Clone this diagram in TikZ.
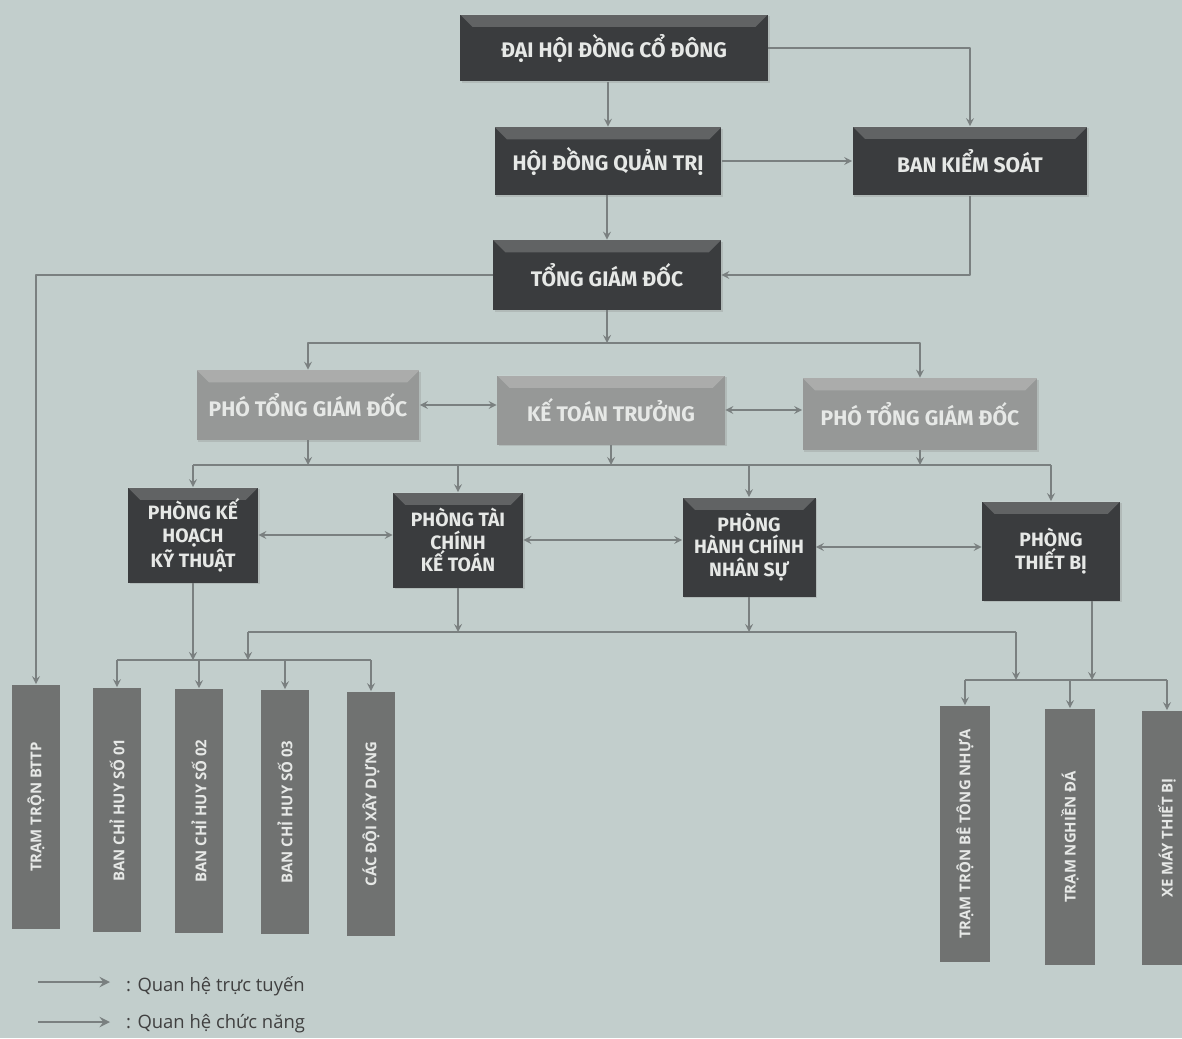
\documentclass[tikz,border=0pt]{standalone}
\usepackage{fontspec}
\setmainfont{Open Sans}
\newfontfamily\boxfont{Fira Sans}
\usetikzlibrary{shadows}
\definecolor{paper}{RGB}{194,206,204}
\definecolor{boxdark}{RGB}{58,60,62}
\definecolor{boxlight}{RGB}{150,152,151}
\definecolor{boxmid}{RGB}{112,114,113}
\definecolor{linkgray}{RGB}{122,128,128}
\definecolor{boxtext}{RGB}{230,232,230}

\begin{document}
\begin{tikzpicture}[x=0.02cm,y=-0.02cm,>=stealth,line join=round,
    link/.style={draw=linkgray,line width=1pt},
    bevel/.style={path picture={\fill[white,opacity=0.2] (path picture bounding box.north west) -- (path picture bounding box.north east) -- ([xshift=-7pt,yshift=-7pt]path picture bounding box.north east) -- ([xshift=7pt,yshift=-7pt]path picture bounding box.north west) -- cycle;}},
    darkbox/.style={bevel,fill=boxdark,text=boxtext,align=center,inner sep=2pt,
      drop shadow={opacity=0.25,shadow xshift=1pt,shadow yshift=-1pt},
      font=\boxfont\bfseries\fontsize{12}{14}\selectfont},
    lightbox/.style={darkbox,fill=boxlight},
    deptbox/.style={darkbox,minimum width=2.6cm,minimum height=1.9cm,
      font=\boxfont\bfseries\fontsize{11}{13}\selectfont},
    unitbox/.style={fill=boxmid,text=boxtext,inner sep=0pt,minimum width=0.95cm,
      minimum height=4.9cm,font=\bfseries\fontsize{8.5}{10}\selectfont},
    legendtext/.style={anchor=west,text=black!75,font=\fontsize{10.5}{12}\selectfont}]
  \useasboundingbox (0,0) rectangle (1182,1038);
  \fill[paper] (0,0) rectangle (1182,1038);

  % governance
  \node[darkbox,minimum width=6.16cm,minimum height=1.34cm] (dhdcd) at (614,48) {ĐẠI HỘI ĐỒNG CỔ ĐÔNG};
  \node[darkbox,minimum width=4.54cm,minimum height=1.36cm] (hdqt) at (608,161) {HỘI ĐỒNG QUẢN TRỊ};
  \node[darkbox,minimum width=4.7cm,minimum height=1.38cm] (bks) at (970,161) {BAN KIỂM SOÁT};
  \node[darkbox,minimum width=4.56cm,minimum height=1.4cm] (tgd) at (607,275) {TỔNG GIÁM ĐỐC};

  % directors
  \node[lightbox,minimum width=4.46cm,minimum height=1.4cm] (ptgd1) at (308,405) {PHÓ TỔNG GIÁM ĐỐC};
  \node[lightbox,minimum width=4.56cm,minimum height=1.38cm] (ktt) at (611,410) {KẾ TOÁN TRƯỞNG};
  \node[lightbox,minimum width=4.7cm,minimum height=1.44cm] (ptgd2) at (920,414) {PHÓ TỔNG GIÁM ĐỐC};

  % departments
  \node[deptbox] (pkh) at (193,535) {PHÒNG KẾ\\HOẠCH\\KỸ THUẬT};
  \node[deptbox] (ptc) at (458,540) {PHÒNG TÀI\\CHÍNH\\KẾ TOÁN};
  \node[deptbox,minimum width=2.66cm,minimum height=1.98cm] (phc) at (749,547) {PHÒNG\\HÀNH CHÍNH\\NHÂN SỰ};
  \node[deptbox,minimum width=2.76cm,minimum height=1.98cm] (ptb) at (1051,551) {PHÒNG\\THIẾT BỊ};

  % units
  \node[unitbox] (ttbttp) at (36,807) {\rotatebox{90}{TRẠM TRỘN BTTP}};
  \node[unitbox] (bch1) at (117,810) {\rotatebox{90}{BAN CHỈ HUY SỐ 01}};
  \node[unitbox] (bch2) at (199,811) {\rotatebox{90}{BAN CHỈ HUY SỐ 02}};
  \node[unitbox] (bch3) at (285,812) {\rotatebox{90}{BAN CHỈ HUY SỐ 03}};
  \node[unitbox] (cdxd) at (371,814) {\rotatebox{90}{CÁC ĐỘI XÂY DỰNG}};
  \node[unitbox,minimum width=1cm,minimum height=5.14cm] (ttbtn) at (965,834) {\rotatebox{90}{TRẠM TRỘN BÊ TÔNG NHỰA}};
  \node[unitbox,minimum width=1cm,minimum height=5.14cm] (ttnd) at (1070,837) {\rotatebox{90}{TRẠM NGHIỀN ĐÁ}};
  \node[unitbox,minimum width=1cm,minimum height=5.1cm] (xmtb) at (1167,838) {\rotatebox{90}{XE MÁY THIẾT BỊ}};

  % bus lines
  \coordinate (busa) at (607,343);
  \coordinate (busb) at (0,465);
  \coordinate (busc) at (0,660);
  \coordinate (busd) at (0,632);
  \coordinate (buse) at (0,680);
  \coordinate (busdw) at (248,632);
  \coordinate (busde) at (1016,632);
  \coordinate (ptbout) at ([xshift=0.82cm]ptb.south);

  % governance links
  \draw[link,->] (dhdcd.south -| hdqt.north) -- (hdqt.north);
  \draw[link,->] (dhdcd.east) -| (bks.north);
  \draw[link,->] (hdqt.east) -- (bks.west);
  \draw[link,->] (tgd.north |- hdqt.south) -- (tgd.north);
  \draw[link,->] (bks.south) |- (tgd.east);
  \draw[link,->] (tgd.west) -| (ttbttp.north);

  % directors links
  \draw[link,->] (tgd.south) -- (busa);
  \draw[link,->] (busa) -| (ptgd1.north);
  \draw[link,->] (busa) -| (ptgd2.north);
  \draw[link,<->] (ptgd1.east) -- (ptgd1.east -| ktt.west);
  \draw[link,<->] (ktt.east) -- (ktt.east -| ptgd2.west);

  % department links
  \draw[link] (pkh.north |- busb) -- (ptb.north |- busb);
  \foreach \n in {ptgd1,ktt,ptgd2} \draw[link,->] (\n.south) -- (\n.south |- busb);
  \foreach \n in {pkh,ptc,phc,ptb} \draw[link,->] (\n.north |- busb) -- (\n.north);
  \draw[link,<->] (pkh.east) -- (pkh.east -| ptc.west);
  \draw[link,<->] (ptc.east) -- (ptc.east -| phc.west);
  \draw[link,<->] (phc.east) -- (phc.east -| ptb.west);

  % unit links
  \draw[link,->] (pkh.south) -- (pkh.south |- busc);
  \draw[link] (bch1.north |- busc) -- (cdxd.north |- busc);
  \foreach \n in {bch1,bch2,bch3,cdxd} \draw[link,->] (\n.north |- busc) -- (\n.north);
  \draw[link] (busdw) -- (busde);
  \draw[link,->] (ptc.south) -- (ptc.south |- busd);
  \draw[link,->] (phc.south) -- (phc.south |- busd);
  \draw[link,->] (busdw) -- (busdw |- busc);
  \draw[link,->] (busde) -- (busde |- buse);
  \draw[link,->] (ptbout) -- (ptbout |- buse);
  \draw[link] (ttbtn.north |- buse) -- (xmtb.north |- buse);
  \foreach \n in {ttbtn,ttnd,xmtb} \draw[link,->] (\n.north |- buse) -- (\n.north);

  % legend
  \coordinate (lg1a) at (38,982);
  \coordinate (lg1b) at (110,982);
  \coordinate (lg2a) at (38,1022);
  \coordinate (lg2b) at (110,1022);
  \draw[link,line width=1.6pt,->] (lg1a) -- (lg1b);
  \draw[link,line width=1.6pt,->] (lg2a) -- (lg2b);
  \node[legendtext] (lgtext1) at (120,986) {: Quan hệ trực tuyến};
  \node[legendtext] (lgtext2) at (120,1024) {: Quan hệ chức năng};
\end{tikzpicture}
\end{document}
